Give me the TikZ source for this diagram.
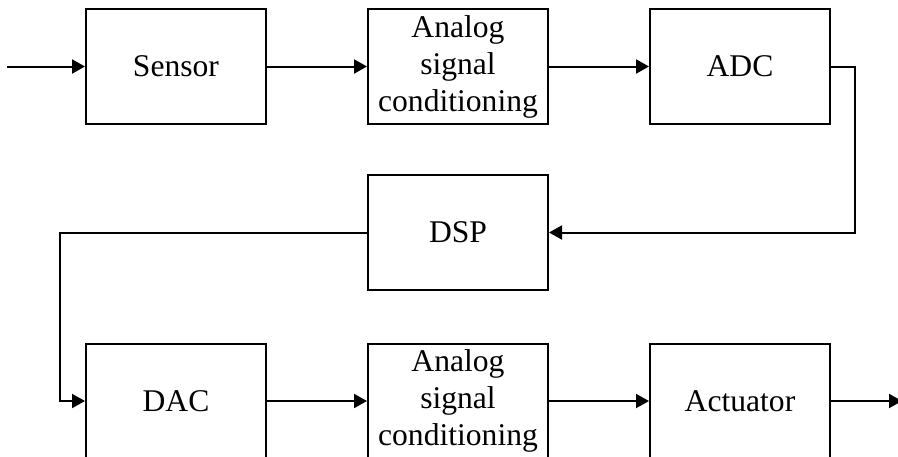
\documentclass[tikz,border=0pt]{standalone}
\usepackage{fontspec}
\setmainfont{Liberation Serif}
\usetikzlibrary{arrows.meta,positioning}

\begin{document}
\begin{tikzpicture}[node distance=49pt and 100pt, every node/.style={font=\fontsize{31.6}{37}\selectfont}, box/.style={draw, line width=2pt, align=center, minimum width=180pt, minimum height=115pt, inner sep=0pt}, arrow/.style={-{Triangle[length=13pt,width=14pt]}, line width=2pt}]
\useasboundingbox (0,0) rectangle (898pt,-456pt);
\node[box] (sensor) at (176pt,-66.5pt) {Sensor};
\node[box, right=of sensor] (asc1) {Analog\\signal\\conditioning};
\node[box, right=of asc1] (adc) {ADC};
\node[box, below=of asc1] (dsp) {DSP};
\node[box, below=51.5pt of dsp] (asc2) {Analog\\signal\\conditioning};
\node[box, left=of asc2] (dac) {DAC};
\node[box, right=of asc2] (act) {Actuator};
\coordinate[left=78pt of sensor.west] (in);
\coordinate[right=71pt of act.east] (out);
\draw[arrow] (in)--(sensor);
\draw[arrow] (sensor)--(asc1);
\draw[arrow] (asc1)--(adc);
\draw[arrow] (adc.east)--++(24pt,0) |- (dsp.east);
\draw[arrow] (dsp.west)--++(-307pt,0) |- (dac.west);
\draw[arrow] (dac)--(asc2);
\draw[arrow] (asc2)--(act);
\draw[arrow] (act.east)--(out);
\end{tikzpicture}
\end{document}
